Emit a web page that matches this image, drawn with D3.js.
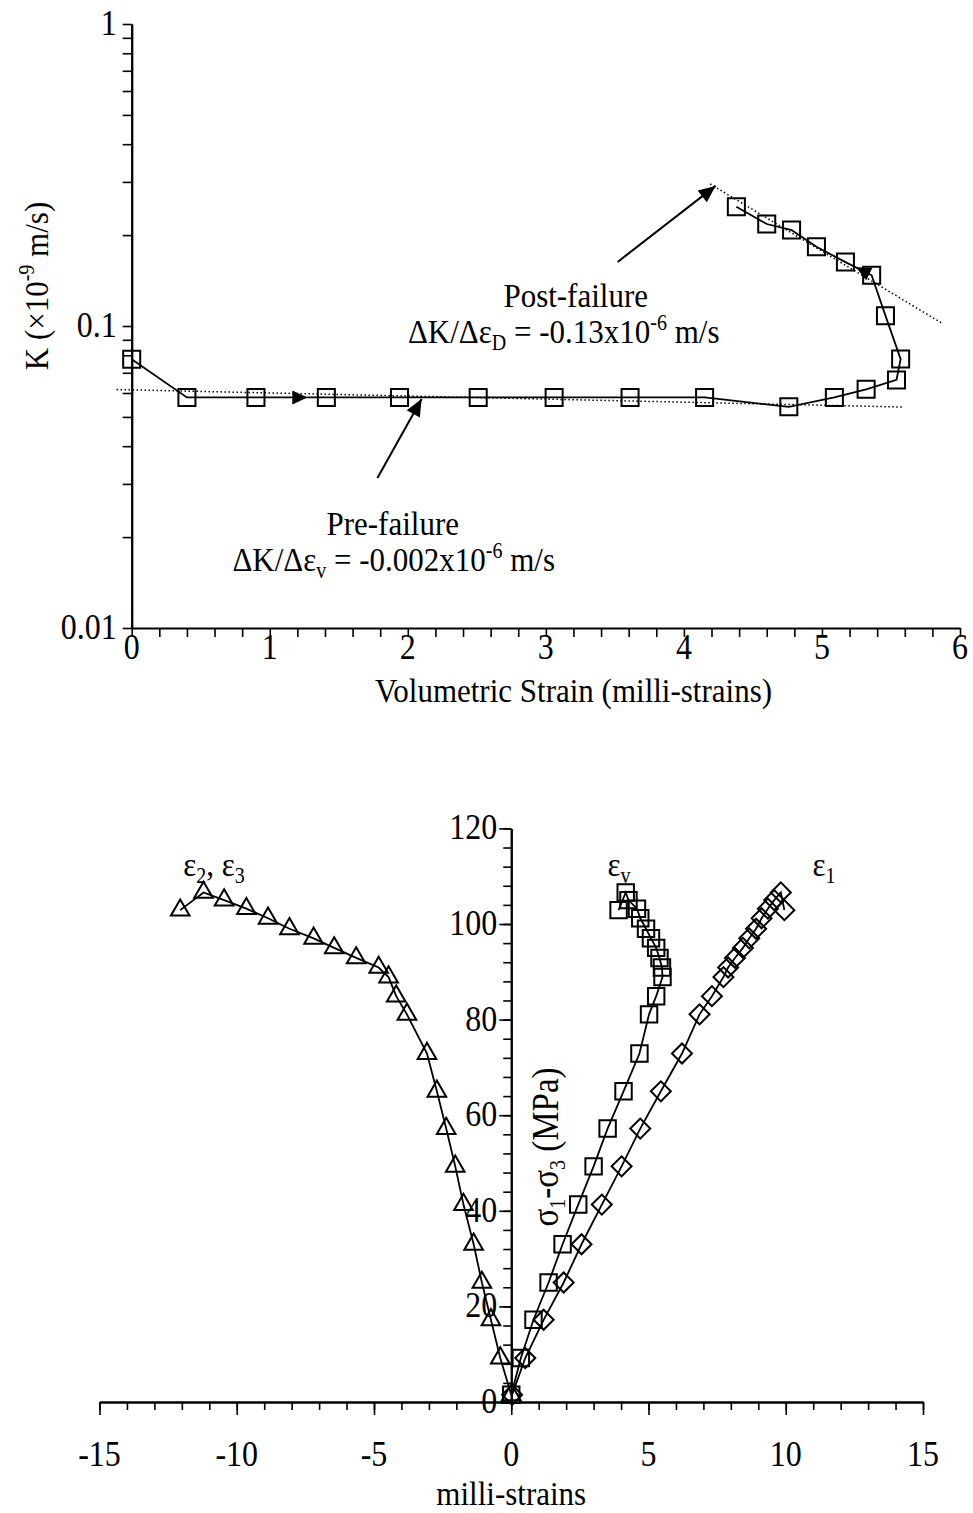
<!DOCTYPE html>
<html>
<head>
<meta charset="utf-8">
<script src="https://cdnjs.cloudflare.com/ajax/libs/d3/7.8.5/d3.min.js"></script>
<style>
body { margin: 0; background: #fff; }
svg text { font-family: "Liberation Serif", "Times New Roman", serif; fill: #000; }
</style>
</head>
<body>
<script>
// ---- top chart data: permeability vs volumetric strain ----
var volStrain = [0, 0.40, 0.90, 1.41, 1.94, 2.51, 3.06, 3.61, 4.15, 4.76, 5.09, 5.32, 5.54, 5.57, 5.46, 5.36, 5.17, 4.96, 4.78, 4.60, 4.38];
var permK = [0.0776, 0.0580, 0.0580, 0.0580, 0.0580, 0.0580, 0.0580, 0.0580, 0.0580, 0.0540, 0.0580, 0.0617, 0.0663, 0.0777, 0.1082, 0.1472, 0.1628, 0.1830, 0.2079, 0.2176, 0.2483];

// dotted fits
var preFitX = [-0.11, 5.59], preFitK = [0.0616, 0.0539];
var postFitX = [4.19, 5.87], postFitK = [0.2953, 0.1021];

// direction arrows on the data line (segment index, fraction along it)
var dirSeg = [2, 15], dirFrac = [0.73, 0.6];

// annotation arrows (tail -> head)
var annoTailX = [3.52, 1.78], annoTailK = [0.163, 0.0314];
var annoHeadX = [4.23, 2.10], annoHeadK = [0.291, 0.0573];

var xTopTicks = [0, 1, 2, 3, 4, 5, 6];
var yTopTicks = [0.01, 0.1, 1];
var yTopLabels = ["0.01", "0.1", "1"];

// ---- bottom chart data: stress vs strains ----
var stress = [1.5, 9.2, 17.2, 25.0, 33.0, 41.3, 49.3, 57.2, 65.0, 72.9, 81.1, 84.9, 88.9, 90.9, 92.9, 95.0, 97.0, 99.0, 101.2, 103.2, 105.0, 106.6, 102.9];
var epsLat = [0, -0.40, -0.74, -1.07, -1.37, -1.74, -2.04, -2.37, -2.71, -3.07, -3.80, -4.19, -4.47, -4.83, -5.65, -6.45, -7.20, -8.08, -8.86, -9.65, -10.46, -11.21, -12.06];
var epsVol = [0, 0.35, 0.81, 1.36, 1.87, 2.44, 3.00, 3.51, 4.09, 4.67, 5.02, 5.28, 5.51, 5.49, 5.40, 5.28, 5.09, 4.91, 4.70, 4.58, 4.27, 4.17, 3.91];
var epsAx = [0.03, 0.51, 1.18, 1.91, 2.56, 3.30, 4.02, 4.70, 5.45, 6.22, 6.86, 7.31, 7.73, 7.90, 8.15, 8.44, 8.67, 8.92, 9.12, 9.35, 9.58, 9.82, 9.95];

var xBotTicks = [-15, -10, -5, 0, 5, 10, 15];
var yBotTicks = [0, 20, 40, 60, 80, 100, 120];

var stretch = 1.12;

var svg = d3.select("body").append("svg")
  .attr("width", 973)
  .attr("height", 1513);

// text helper, glyphs a bit taller than wide like the original
function label(parent, x, y, anchor, rot, size) {
  var t = "translate(" + x + "," + y + ")" + (rot ? " rotate(" + rot + ")" : "") + " scale(1," + stretch + ")";
  return parent.append("g").attr("transform", t)
    .append("text")
      .attr("text-anchor", anchor || "middle")
      .style("font-size", (size || 31) + "px");
}

function sub(text, s) {
  text.append("tspan").attr("dy", 6).style("font-size", "20px").text(s);
  return text.append("tspan").attr("dy", -6);
}
function sup(text, s) {
  text.append("tspan").attr("dy", -12).style("font-size", "20px").text(s);
  return text.append("tspan").attr("dy", 12);
}

function arrowHead(g, tip, from, len, half) {
  var a = Math.atan2(tip[1] - from[1], tip[0] - from[0]);
  var bx = tip[0] - len * Math.cos(a), by = tip[1] - len * Math.sin(a);
  var p1 = [bx + half * Math.sin(a), by - half * Math.cos(a)];
  var p2 = [bx - half * Math.sin(a), by + half * Math.cos(a)];
  g.append("path").attr("d", "M" + tip + "L" + p1 + "L" + p2 + "Z").attr("fill", "#000");
}

function styleAxis(sel, w) {
  sel.attr("font-size", null).attr("font-family", null);
  sel.select(".domain").attr("stroke-width", w || 2);
  sel.selectAll(".tick line").attr("stroke-width", 1.6);
}

//================ top chart ================
var tW = 828.3, tH = 604;
var xTop = d3.scaleLinear().domain([0, 6]).range([0, tW]);
var yTop = d3.scaleLog().domain([0.01, 1]).range([tH, 0]);

var gTop = svg.append("g").attr("transform", "translate(131.7,24)");

// log minor ticks
var yMinor = [];
[0.01, 0.1].forEach(function(d) {
  for (var i = 2; i <= 9; i++) yMinor.push(d * i);
});

gTop.append("g")
  .call(d3.axisLeft(yTop).tickValues(yMinor).tickSize(9).tickSizeOuter(0).tickFormat(""))
  .call(styleAxis);
gTop.append("g")
  .call(d3.axisLeft(yTop).tickValues(yTopTicks).tickSize(9).tickSizeOuter(0).tickFormat(""))
  .call(styleAxis);

gTop.append("g")
  .attr("transform", "translate(0," + tH + ")")
  .call(d3.axisBottom(xTop).tickValues(d3.range(0, 6.01, 0.2)).tickSize(9).tickSizeOuter(0).tickFormat(""))
  .call(styleAxis);

xTopTicks.forEach(function(d) {
  label(gTop, xTop(d), tH + 31, "middle", 0, 32).text(d);
});
yTopTicks.forEach(function(d, i) {
  label(gTop, -15, yTop(d) + 11, "end", 0, 32).text(yTopLabels[i]);
});

label(gTop, xTop(3.2), tH + 74).text("Volumetric Strain (milli-strains)");
var kl = label(gTop, -84, 262, "middle", -90).text("K (\u00d710");
sup(kl, "-9").text(" m/s)");

// dotted trend lines
var fitLine = d3.line().x(function(d) { return xTop(d[0]); }).y(function(d) { return yTop(d[1]); });
gTop.append("path")
  .attr("d", fitLine(d3.zip(preFitX, preFitK)))
  .attr("fill", "none").attr("stroke", "#000").attr("stroke-width", 1.5).attr("stroke-dasharray", "1.5,2.5");
gTop.append("path")
  .attr("d", fitLine(d3.zip(postFitX, postFitK)))
  .attr("fill", "none").attr("stroke", "#000").attr("stroke-width", 1.5).attr("stroke-dasharray", "1.5,2.5");

// data line
var topPts = d3.zip(volStrain, permK);
gTop.append("path")
  .attr("d", fitLine(topPts))
  .attr("fill", "none").attr("stroke", "#000").attr("stroke-width", 1.8);

gTop.selectAll(".sq")
  .data(topPts)
  .join("path")
    .attr("class", "sq")
    .attr("transform", function(d) { return "translate(" + xTop(d[0]) + "," + yTop(d[1]) + ")"; })
    .attr("d", d3.symbol(d3.symbolSquare, 290))
    .attr("fill", "none").attr("stroke", "#000").attr("stroke-width", 2);

// direction arrows along the line
dirSeg.forEach(function(s, i) {
  var p0 = [xTop(volStrain[s]), yTop(permK[s])];
  var p1 = [xTop(volStrain[s + 1]), yTop(permK[s + 1])];
  var t = dirFrac[i];
  var tip = [p0[0] + t * (p1[0] - p0[0]), p0[1] + t * (p1[1] - p0[1])];
  arrowHead(gTop, tip, p0, 15, 7);
});

// annotation arrows
annoTailX.forEach(function(d, i) {
  var a = [xTop(d), yTop(annoTailK[i])];
  var b = [xTop(annoHeadX[i]), yTop(annoHeadK[i])];
  gTop.append("line")
    .attr("x1", a[0]).attr("y1", a[1]).attr("x2", b[0]).attr("y2", b[1])
    .attr("stroke", "#000").attr("stroke-width", 2);
  arrowHead(gTop, b, a, 17, 7.5);
});

label(gTop, 444, 283).text("Post-failure");
var pf = label(gTop, 432, 319).text("\u0394K/\u0394\u03b5");
sub(pf, "D").text(" = -0.13x10");
sup(pf, "-6").text(" m/s");

label(gTop, 261, 511).text("Pre-failure");
var prf = label(gTop, 262, 547).text("\u0394K/\u0394\u03b5");
sub(prf, "v").text(" = -0.002x10");
sup(prf, "-6").text(" m/s");

//================ bottom chart ================
var xBot = d3.scaleLinear().domain([-15, 15]).range([99.5, 923]);
var yBot = d3.scaleLinear().domain([0, 120]).range([1402, 828.4]);
var gBot = svg.append("g");

gBot.append("g")
  .attr("transform", "translate(" + xBot(0) + ",0)")
  .call(d3.axisLeft(yBot).tickValues(d3.range(0, 121, 4)).tickSize(8).tickSizeOuter(0).tickFormat(""))
  .call(styleAxis);
gBot.append("g")
  .attr("transform", "translate(" + xBot(0) + ",0)")
  .call(d3.axisLeft(yBot).tickValues(yBotTicks).tickSize(12).tickSizeOuter(0).tickFormat(""))
  .call(styleAxis);

gBot.append("g")
  .attr("transform", "translate(0," + yBot(0) + ")")
  .call(d3.axisBottom(xBot).tickValues(d3.range(-15, 15.1, 1)).tickSize(8).tickSizeOuter(0).tickFormat(""))
  .call(styleAxis);
gBot.append("g")
  .attr("transform", "translate(0," + yBot(0) + ")")
  .call(d3.axisBottom(xBot).tickValues(xBotTicks).tickSize(13).tickSizeOuter(0).tickFormat(""))
  .call(styleAxis);

xBotTicks.forEach(function(d) {
  label(gBot, xBot(d), yBot(0) + 64, "middle", 0, 32).text(d);
});
yBotTicks.forEach(function(d) {
  label(gBot, xBot(0) - 14, yBot(d) + 11, "end", 0, 32).text(d);
});

label(gBot, xBot(0), 1505).text("milli-strains");
var sl = label(gBot, 558, 1147, "middle", -90, 33).text("\u03c3");
sub(sl, "1").text("-\u03c3");
sub(sl, "3").text(" (MPa)");

var l1 = label(gBot, 214, 876).text("\u03b5");
sub(l1, "2").text(",  \u03b5");
sub(l1, "3");
sub(label(gBot, 619, 876).text("\u03b5"), "v");
sub(label(gBot, 824, 876).text("\u03b5"), "1");

var botLine = d3.line().x(function(d) { return xBot(d[0]); }).y(function(d) { return yBot(d[1]); });

function drawSeries(xs, sym, size, rot) {
  var pts = d3.zip(xs, stress);
  gBot.append("path")
    .attr("d", botLine(pts))
    .attr("fill", "none").attr("stroke", "#000").attr("stroke-width", 1.8);
  gBot.append("g").selectAll("path")
    .data(pts)
    .join("path")
      .attr("transform", function(d) { return "translate(" + xBot(d[0]) + "," + yBot(d[1]) + ") rotate(" + rot + ")"; })
      .attr("d", d3.symbol(sym, size))
      .attr("fill", "none").attr("stroke", "#000").attr("stroke-width", 2);
}

drawSeries(epsLat, d3.symbolTriangle, 150, 0);
drawSeries(epsVol, d3.symbolSquare, 270, 0);
drawSeries(epsAx, d3.symbolSquare, 200, 45);
</script>
</body>
</html>
